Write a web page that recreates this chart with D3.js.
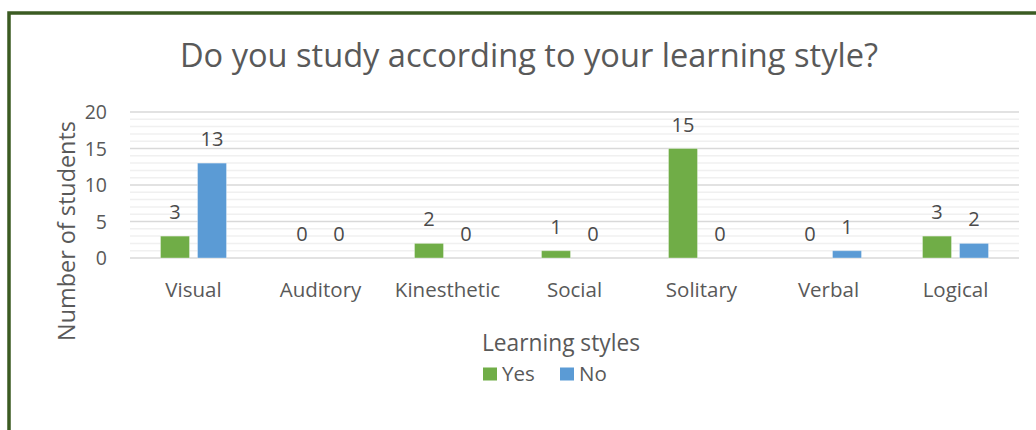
<!DOCTYPE html>
<html>
<head>
<meta charset="utf-8">
<script src="https://cdn.jsdelivr.net/npm/d3@7"></script>
<style>
  html, body { margin: 0; padding: 0; background: #fff; }
  svg { display: block; }
</style>
</head>
<body>
<script>
const categories = ["Visual", "Auditory", "Kinesthetic", "Social", "Solitary", "Verbal", "Logical"];
const seriesNames = ["Yes", "No"];
const yesValues = [3, 0, 2, 1, 15, 0, 3];
const noValues = [13, 0, 0, 0, 0, 1, 2];
const seriesColors = ["#70ad47", "#5b9bd5"];
const yTicks = [0, 5, 10, 15, 20];

const width = 1036, height = 430;
const font = "'Open Sans', 'Noto Sans', sans-serif";
const textColor = "#595959";

const svg = d3.select("body").append("svg")
    .attr("width", width)
    .attr("height", height)
    .attr("font-family", font);

svg.append("rect").attr("width", width).attr("height", height).attr("fill", "#fff");

// scale font-size so the text spans the given width
function fit(sel, target) {
  const w = sel.node().getComputedTextLength();
  const fs = +sel.attr("font-size");
  sel.attr("font-size", (fs * target / w).toFixed(2));
  return sel;
}

// frame (dark green) top and left
svg.append("path")
    .attr("d", `M9,${height} V13 H${width}`)
    .attr("fill", "none")
    .attr("stroke", "#3b5b22")
    .attr("stroke-width", 3.5);

const plot = {left: 130, right: 1019, top: 112, bottom: 258};

const x0 = d3.scaleBand().domain(categories).range([plot.left, plot.right]);
const x1 = d3.scaleBand().domain(seriesNames).range([0, x0.bandwidth()])
    .paddingInner(0.216).paddingOuter(0.824);
const y = d3.scaleLinear().domain([0, 20]).range([plot.bottom, plot.top]);

// minor gridlines
svg.append("g").selectAll("line")
  .data(d3.range(0, 21).filter(v => v % 5 !== 0))
  .join("line")
    .attr("x1", plot.left).attr("x2", plot.right)
    .attr("y1", d => y(d)).attr("y2", d => y(d))
    .attr("stroke", "#f0f0f0").attr("stroke-width", 1.5);

// major gridlines
svg.append("g").selectAll("line")
  .data(yTicks)
  .join("line")
    .attr("x1", plot.left).attr("x2", plot.right)
    .attr("y1", d => y(d)).attr("y2", d => y(d))
    .attr("stroke", "#d9d9d9").attr("stroke-width", 1.5);

// y axis labels
const yAxis = svg.append("g")
    .attr("transform", `translate(107,0)`)
    .call(d3.axisLeft(y).tickValues(yTicks).tickSize(0).tickPadding(0));
yAxis.select(".domain").remove();
yAxis.selectAll("text")
    .attr("dy", null).attr("y", 6.5)
    .attr("font-family", font).attr("font-size", 19.5).attr("fill", textColor);

// x axis labels
const xAxis = svg.append("g")
    .attr("transform", `translate(0,296.5)`)
    .call(d3.axisBottom(x0).tickSize(0).tickPadding(0));
xAxis.select(".domain").remove();
xAxis.selectAll("text")
    .attr("dy", null).attr("y", 0)
    .attr("font-family", font).attr("font-size", 20.5).attr("fill", textColor);

const rows = categories.map((c, i) => ({cat: c, values: [yesValues[i], noValues[i]]}));

const groups = svg.append("g").selectAll("g")
  .data(rows)
  .join("g")
    .attr("transform", d => `translate(${x0(d.cat)},0)`);

groups.selectAll("rect")
  .data(d => d.values.map((v, j) => ({name: seriesNames[j], value: v, color: seriesColors[j]})))
  .join("rect")
    .attr("x", d => x1(d.name))
    .attr("y", d => y(d.value))
    .attr("width", x1.bandwidth())
    .attr("height", d => y(0) - y(d.value))
    .attr("fill", d => d.color)
    .attr("stroke", d => d.value > 0 ? "#fff" : "none")
    .attr("stroke-opacity", 0.35)
    .attr("stroke-width", 1);

groups.selectAll("text")
  .data(d => d.values.map((v, j) => ({name: seriesNames[j], value: v})))
  .join("text")
    .attr("x", d => x1(d.name) + x1.bandwidth() / 2)
    .attr("y", d => y(d.value) - 17)
    .attr("text-anchor", "middle")
    .attr("font-size", 20)
    .attr("fill", "#4a4a4a")
    .text(d => d.value);

// title
fit(svg.append("text")
    .attr("x", 529).attr("y", 67)
    .attr("text-anchor", "middle")
    .attr("font-size", 31)
    .attr("fill", textColor)
    .text("Do you study according to your learning style?"), 698);

// axis titles
fit(svg.append("text")
    .attr("transform", `translate(75,231) rotate(-90)`)
    .attr("text-anchor", "middle")
    .attr("font-size", 24)
    .attr("fill", textColor)
    .text("Number of students"), 220);

fit(svg.append("text")
    .attr("x", 561).attr("y", 350.5)
    .attr("text-anchor", "middle")
    .attr("font-size", 24)
    .attr("fill", textColor)
    .text("Learning styles"), 158);

// legend
const legend = svg.append("g").selectAll("g")
  .data(seriesNames)
  .join("g")
    .attr("transform", (d, i) => `translate(${483 + i * 77},367.5)`);
legend.append("rect")
    .attr("width", 14).attr("height", 13)
    .attr("fill", (d, i) => seriesColors[i]);
legend.append("text")
    .attr("x", 19).attr("y", 13.5)
    .attr("font-size", 20.5)
    .attr("fill", textColor)
    .text(d => d);
</script>
</body>
</html>
